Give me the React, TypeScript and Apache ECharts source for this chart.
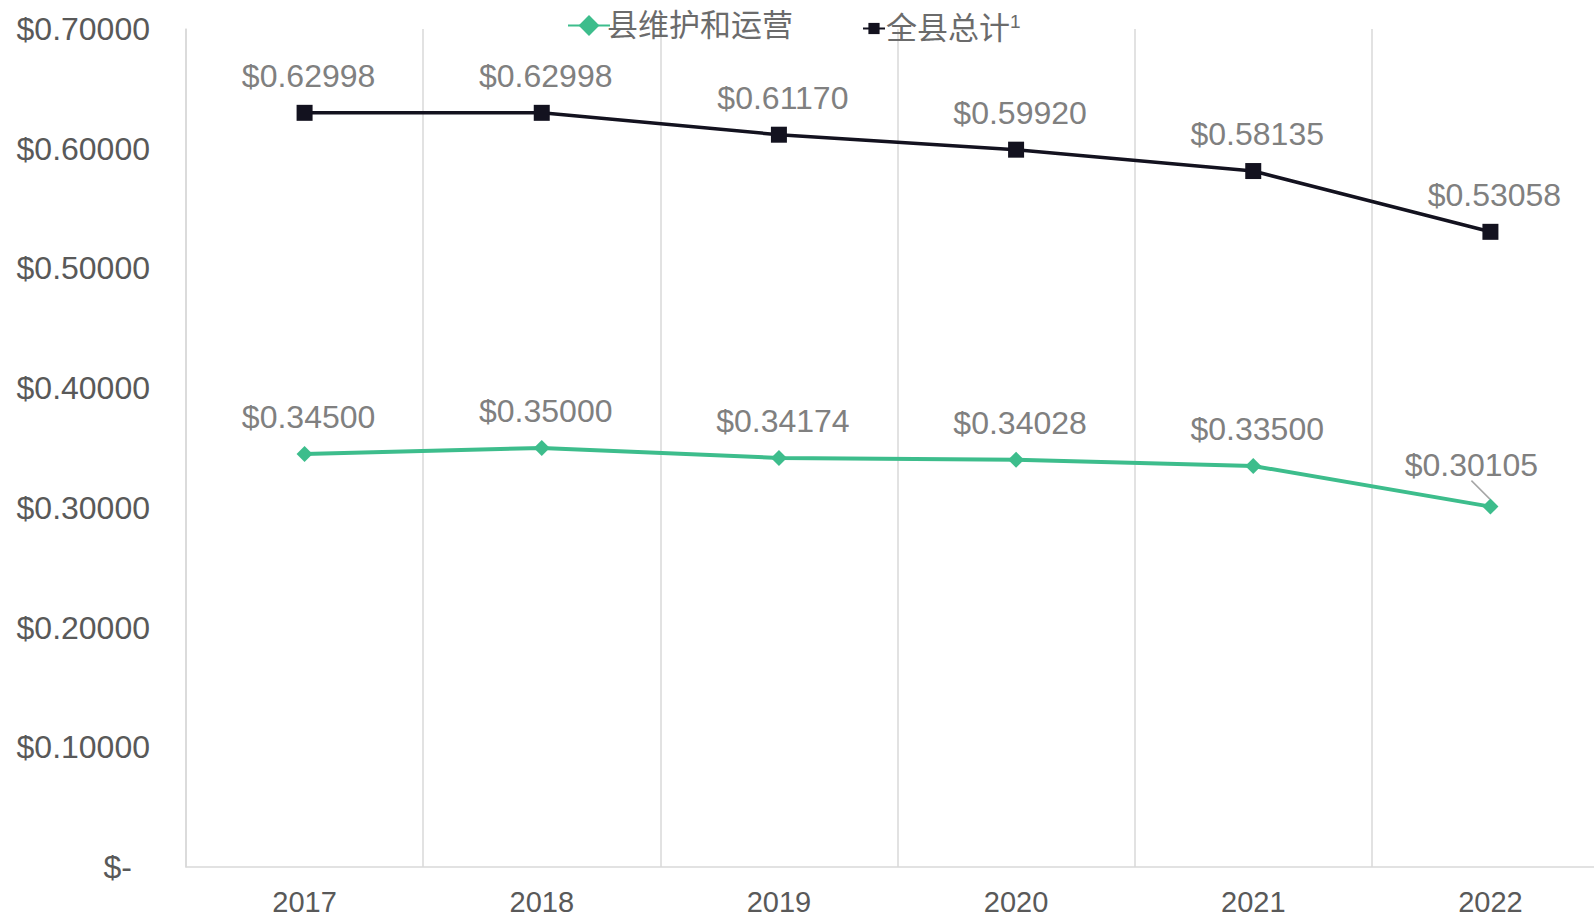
import React, { useEffect, useRef } from "react";
import * as echarts from "echarts";

const years = ["2017", "2018", "2019", "2020", "2021", "2022"];
const maintenanceOps = [0.345, 0.35, 0.34174, 0.34028, 0.335, 0.30105];
const countyTotal = [0.62998, 0.62998, 0.6117, 0.5992, 0.58135, 0.53058];
const yTicks = { min: 0, max: 0.7, interval: 0.1 };
const seriesNames = ["县维护和运营", "全县总计"];

const FONT = "'Liberation Sans', Arial, 'Noto Sans CJK SC', sans-serif";
const GREEN = "#3dbd8c";
const DARK = "#13121f";

export default function App() {
  const ref = useRef<HTMLDivElement>(null);
  useEffect(() => {
    if (!ref.current) return;
    const chart = echarts.init(ref.current, null, { renderer: "svg" });
    const fmt = (v: number) => "$" + v.toFixed(5);
    const greenData = maintenanceOps.map((v, i) =>
      i === maintenanceOps.length - 1 ? { value: v, labelLine: { show: true } } : { value: v }
    );
    chart.setOption({
      animation: false,
      textStyle: { fontFamily: FONT },
      grid: { left: 186, right: 0, top: 29, bottom: 49, containLabel: false },
      legend: [
        {
          data: [seriesNames[0]],
          left: 562,
          top: 5,
          itemWidth: 42,
          itemHeight: 26,
          itemGap: 0,
          textStyle: { fontSize: 31, color: "#6b6b6b", fontFamily: FONT, padding: [0, 0, 0, -8] },
        },
        {
          data: [seriesNames[1]],
          left: 857,
          top: 7,
          itemWidth: 22,
          itemHeight: 14,
          formatter: (n: string) => n + "{sup|1}",
          textStyle: {
            fontSize: 31,
            color: "#6b6b6b",
            fontFamily: FONT,
            padding: [0, 0, 0, -4],
            rich: { sup: { fontSize: 19, verticalAlign: "top", color: "#6b6b6b", padding: [0, 0, 14, 0] } },
          },
        },
      ],
      xAxis: {
        type: "category",
        data: years,
        boundaryGap: true,
        axisLine: { show: true, lineStyle: { color: "#d9d9d9", width: 1.5 } },
        axisTick: { show: false },
        splitLine: { show: true, lineStyle: { color: "#d9d9d9", width: 1.5 } },
        axisLabel: { fontSize: 29, color: "#595959", margin: 20, fontFamily: FONT },
      },
      yAxis: {
        type: "value",
        min: yTicks.min,
        max: yTicks.max,
        interval: yTicks.interval,
        axisLine: { show: true, lineStyle: { color: "#d9d9d9", width: 1.5 } },
        axisTick: { show: false },
        splitLine: { show: false },
        axisLabel: {
          fontSize: 32,
          color: "#595959",
          margin: 36,
          fontFamily: FONT,
          formatter: (v: number) => (v === 0 ? "{z|$-}" : fmt(v)),
          rich: { z: { fontSize: 32, color: "#595959", padding: [0, 18, 0, 0], fontFamily: FONT } },
        },
      },
      series: [
        {
          name: seriesNames[0],
          type: "line",
          data: greenData,
          symbol: "diamond",
          symbolSize: 16,
          itemStyle: { color: GREEN },
          lineStyle: { color: GREEN, width: 4 },
          label: {
            show: true,
            position: "top",
            distance: 13,
            fontSize: 32,
            color: "#808080",
            fontFamily: FONT,
            formatter: (p: any) => fmt(p.value),
          },
          labelLine: { show: false, lineStyle: { color: "#a6a6a6", width: 1.5 } },
          labelLayout: (p: any) => (p.dataIndex === 5 ? { dx: -19, dy: -5 } : { dx: 4 }),
        },
        {
          name: seriesNames[1],
          type: "line",
          data: countyTotal,
          symbol: "rect",
          symbolSize: 16,
          itemStyle: { color: DARK },
          lineStyle: { color: DARK, width: 3.5 },
          label: {
            show: true,
            position: "top",
            distance: 13,
            offset: [4, 0],
            fontSize: 32,
            color: "#808080",
            fontFamily: FONT,
            formatter: (p: any) => fmt(p.value),
          },
        },
      ],
    });
    return () => chart.dispose();
  }, []);
  return (
    <div style={{ position: "absolute", left: 0, top: 0, width: 1594, height: 916, overflow: "hidden" }}>
      <div ref={ref} style={{ width: 1609, height: 916 }} />
    </div>
  );
}
